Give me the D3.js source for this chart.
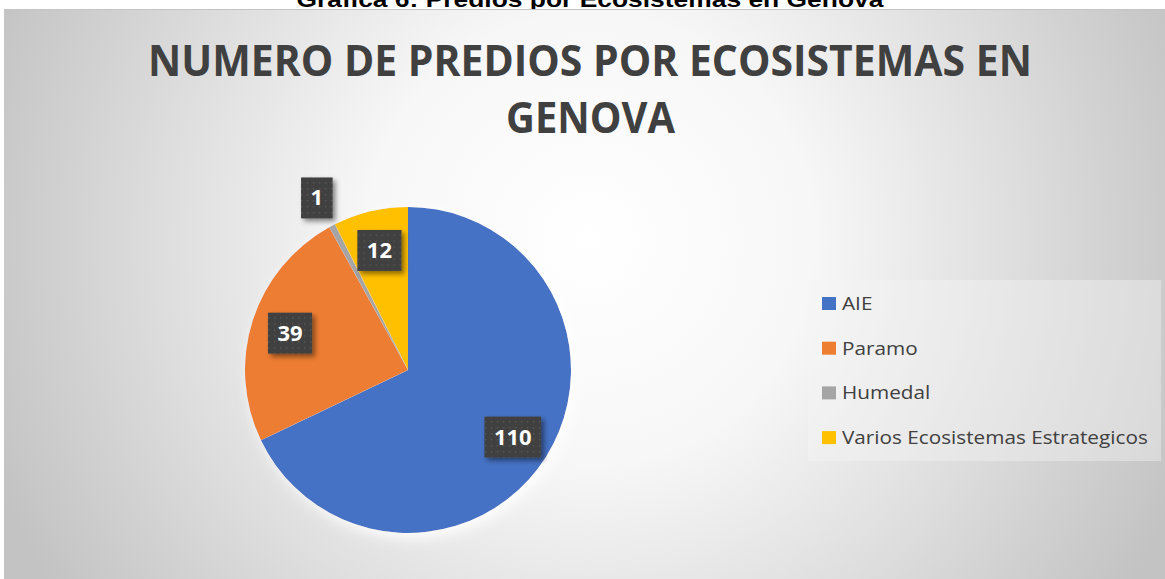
<!DOCTYPE html>
<html><head><meta charset="utf-8">
<script src="https://cdn.jsdelivr.net/npm/d3@7"></script>
<style>html,body{margin:0;padding:0;background:#fff;overflow:hidden}svg{display:block}</style>
</head><body>
<svg id="chart" width="1165" height="579"></svg>
<script>
const categories = ["AIE", "Paramo", "Humedal", "Varios Ecosistemas Estrategicos"];
const values = [110, 39, 1, 12];
const colors = ["#4472C4", "#ED7D31", "#A5A5A5", "#FFC000"];
const titleLines = ["NUMERO DE PREDIOS POR ECOSISTEMAS EN", "GENOVA"];
const caption = "Gráfica 6: Predios por Ecosistemas en Genova";

const svg = d3.select("#chart");
const W = 1165, H = 579;
const defs = svg.append("defs");

function fitWidth(sel, target, cx) {
  const w = sel.node().getComputedTextLength();
  const k = target / w;
  sel.attr("transform", `translate(${cx},0) scale(${k},1) translate(${-cx},0)`);
}

// background gradient
const rg = defs.append("radialGradient").attr("id","bg")
  .attr("gradientUnits","userSpaceOnUse").attr("cx",590).attr("cy",240).attr("r",640);
rg.append("stop").attr("offset","0").attr("stop-color","#ffffff");
rg.append("stop").attr("offset","0.35").attr("stop-color","#f7f7f7");
rg.append("stop").attr("offset","1").attr("stop-color","#c3c3c3");

// pie glow
const glow = defs.append("filter").attr("id","glow").attr("x","-20%").attr("y","-20%").attr("width","140%").attr("height","140%");
glow.append("feDropShadow").attr("dx",4).attr("dy",5).attr("stdDeviation",7)
  .attr("flood-color","#ffffff").attr("flood-opacity",0.95);

// label shadow
const lsh = defs.append("filter").attr("id","lsh").attr("x","-30%").attr("y","-30%").attr("width","160%").attr("height","160%");
lsh.append("feDropShadow").attr("dx",3).attr("dy",3).attr("stdDeviation",2.5)
  .attr("flood-color","#000").attr("flood-opacity",0.45);

// dotted pattern for label boxes
const pat = defs.append("pattern").attr("id","dots").attr("patternUnits","userSpaceOnUse")
  .attr("width",6).attr("height",6);
pat.append("rect").attr("width",6).attr("height",6).attr("fill","#404040");
pat.append("rect").attr("x",2).attr("y",2).attr("width",1.5).attr("height",1.5).attr("fill","#575757");

// caption (cut off at top, as in the source)
const cap = svg.append("text").attr("x",590).attr("y",7).attr("text-anchor","middle")
  .attr("font-family","Liberation Sans, Arial, sans-serif").attr("font-weight","bold")
  .attr("font-size",22).attr("fill","#000").text(caption);
fitWidth(cap, 587, 590);

// chart area
svg.append("rect").attr("x",4).attr("y",9).attr("width",W-4).attr("height",H-9).attr("fill","url(#bg)");
svg.append("line").attr("x1",4).attr("x2",W).attr("y1",9.5).attr("y2",9.5).attr("stroke","#c4c4c4").attr("stroke-width",1);

// title
const t1 = svg.append("text").attr("x",590).attr("y",76).attr("text-anchor","middle")
  .attr("font-family","Open Sans, sans-serif").attr("font-weight","bold").attr("font-size",43)
  .attr("fill","#404040").text(titleLines[0]);
fitWidth(t1, 884, 590);
const t2 = svg.append("text").attr("x",590.5).attr("y",133).attr("text-anchor","middle")
  .attr("font-family","Open Sans, sans-serif").attr("font-weight","bold").attr("font-size",43)
  .attr("fill","#404040").text(titleLines[1]);
fitWidth(t2, 169, 590.5);

// pie
const cx = 408, cy = 370, R = 163;
const pie = d3.pie().sort(null).value(d => d)(values);
const arc = d3.arc().innerRadius(0).outerRadius(R);
const g = svg.append("g").attr("transform",`translate(${cx},${cy})`);
g.append("g").attr("filter","url(#glow)").selectAll("path").data(pie).join("path")
  .attr("d", arc).attr("fill",(d,i)=>colors[i]);

// labels
const lab = g.append("g");
pie.forEach((d,i) => {
  const span = d.endAngle - d.startAngle;
  const rr = span < 0.1 ? R*1.2 : R*0.76;
  const a = (d.startAngle + d.endAngle)/2;
  const x = Math.sin(a)*rr, y = -Math.cos(a)*rr;
  const lg = lab.append("g").attr("transform",`translate(${x},${y+1})`);
  const rect = lg.append("rect").attr("fill","url(#dots)").attr("filter","url(#lsh)");
  const t = lg.append("text").attr("text-anchor","middle").attr("y",7.5)
    .attr("font-family","Open Sans, sans-serif").attr("font-weight","bold").attr("font-size",22)
    .attr("fill","#fff").text(values[i]);
  const tw = t.node().getComputedTextLength();
  const bw = tw + 19, bh = 41;
  rect.attr("x",-bw/2).attr("y",-bh/2).attr("width",bw).attr("height",bh);
});

// legend
svg.append("rect").attr("x",808).attr("y",280).attr("width",353).attr("height",181)
  .attr("fill","#f4f4f4").attr("fill-opacity",0.4);
const legTexts = [];
categories.forEach((c,i) => {
  const y = 297 + i*44.7;
  svg.append("rect").attr("x",822).attr("y",y).attr("width",14).attr("height",13).attr("fill",colors[i]);
  const t = svg.append("text").attr("x",842).attr("y",y+13)
    .attr("font-family","Open Sans, sans-serif").attr("font-size",18.5).attr("fill","#404040").text(c);
  legTexts.push(t);
});
const kL = 306 / legTexts[3].node().getComputedTextLength();
legTexts.forEach(t => t.attr("transform", `translate(842,0) scale(${kL},1) translate(-842,0)`));
</script>
</body></html>
